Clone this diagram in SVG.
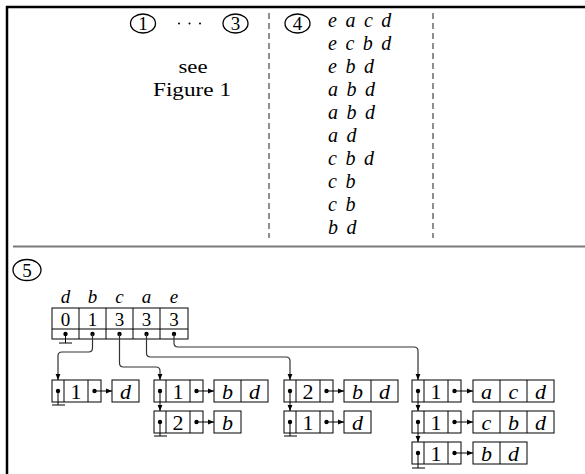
<svg xmlns="http://www.w3.org/2000/svg" width="585" height="474" viewBox="0 0 585 474">
<style>
  .t{font-family:"Liberation Serif","Times New Roman",serif;font-size:19px;fill:#000}
  .n{font-size:22px}
  .h{font-size:19px}
  .i{font-style:italic}
  .c{text-anchor:middle}
  .box{fill:none;stroke:#000;stroke-width:1}
  .con{fill:none;stroke:#333;stroke-width:1.2}
  .dash{stroke:#333;stroke-width:1.1;stroke-dasharray:6,4}
  .circ{fill:none;stroke:#000;stroke-width:1.3}
</style>
<defs>
  <marker id="ah" markerWidth="7" markerHeight="6" refX="6" refY="3" orient="auto" markerUnits="userSpaceOnUse">
    <path d="M0,0.6 L6,3 L0,5.4Z" fill="#000"/>
  </marker>
</defs>
<rect width="585" height="474" fill="#fff"/>
<g id="frame">
  <line x1="7" y1="6" x2="7" y2="474" stroke="#000" stroke-width="2.5"/>
  <line x1="6" y1="7" x2="585" y2="7" stroke="#000" stroke-width="2.5"/>
  <line x1="13" y1="246.5" x2="585" y2="246.5" stroke="#7a7a7a" stroke-width="1.8"/>
  <line class="dash" x1="269" y1="13" x2="269" y2="238"/>
  <line class="dash" x1="433" y1="13" x2="433" y2="238"/>
</g>
<g id="steps13">
  <ellipse class="circ" cx="143" cy="23.5" rx="12.5" ry="9.5"/>
  <text class="t c" x="143" y="30">1</text>
  <circle cx="179" cy="23.5" r="1"/><circle cx="189.5" cy="23.5" r="1"/><circle cx="200" cy="23.5" r="1"/>
  <ellipse class="circ" cx="235.5" cy="23.5" rx="12.5" ry="9.5"/>
  <text class="t c" x="235.5" y="30">3</text>
  <text class="t c" x="193" y="73" textLength="29" lengthAdjust="spacingAndGlyphs">see</text>
  <text class="t c" x="192" y="96" textLength="78" lengthAdjust="spacingAndGlyphs">Figure 1</text>
</g>
<g id="step4">
  <ellipse class="circ" cx="297.5" cy="23.5" rx="12.5" ry="9.5"/>
  <text class="t c" x="297.5" y="30">4</text>
  <g class="t i" style="font-size:20px;word-spacing:3.5px">
    <text x="328" y="27">e a c d</text>
    <text x="328" y="50">e c b d</text>
    <text x="328" y="73">e b d</text>
    <text x="328" y="96">a b d</text>
    <text x="328" y="119">a b d</text>
    <text x="328" y="142">a d</text>
    <text x="328" y="165">c b d</text>
    <text x="328" y="188">c b</text>
    <text x="328" y="211">c b</text>
    <text x="328" y="234">b d</text>
  </g>
</g>
<g id="step5label">
  <ellipse class="circ" cx="27" cy="270" rx="14" ry="10.5"/>
  <text class="t c" x="27" y="277">5</text>
</g>
<g id="header">
  <g class="t h i c">
    <text x="65.5" y="303">d</text>
    <text x="92.5" y="303">b</text>
    <text x="119.5" y="303">c</text>
    <text x="146.5" y="303">a</text>
    <text x="174" y="303">e</text>
  </g>
  <rect class="box" x="52" y="308" width="136" height="31"/>
  <line class="box" x1="52" y1="329" x2="188" y2="329"/>
  <line class="box" x1="79" y1="308" x2="79" y2="339"/>
  <line class="box" x1="106" y1="308" x2="106" y2="339"/>
  <line class="box" x1="133" y1="308" x2="133" y2="339"/>
  <line class="box" x1="160" y1="308" x2="160" y2="339"/>
  <g class="t h c">
    <text x="65.5" y="325.5">0</text>
    <text x="92.5" y="325.5">1</text>
    <text x="119.5" y="325.5">3</text>
    <text x="146.5" y="325.5">3</text>
    <text x="174" y="325.5">3</text>
  </g>
  <g fill="#000">
    <circle cx="65.5" cy="334" r="2.2"/><circle cx="92.5" cy="334" r="2.2"/><circle cx="119.5" cy="334" r="2.2"/><circle cx="146.5" cy="334" r="2.2"/><circle cx="174" cy="334" r="2.2"/>
  </g>
  <path class="box" d="M65.5,334 V343 M59,343 H72"/>
</g>
<g id="connectors">
  <path class="con" d="M92.5,334 V348 Q92.5,352 88.5,352 H62 Q58,352 58,356 V380" marker-end="url(#ah)"/>
  <path class="con" d="M119.5,334 V363 Q119.5,367 123.5,367 H156 Q160,367 160,371 V380" marker-end="url(#ah)"/>
  <path class="con" d="M146.5,334 V353 Q146.5,357 150.5,357 H286 Q290,357 290,361 V380" marker-end="url(#ah)"/>
  <path class="con" d="M174,334 V343 Q174,347 178,347 H414 Q418,347 418,351 V380" marker-end="url(#ah)"/>
</g>
<g id="nodeA">
  <rect class="box" x="52" y="380" width="49" height="22"/>
  <line class="box" x1="64" y1="380" x2="64" y2="402"/><line class="box" x1="88" y1="380" x2="88" y2="402"/>
  <text class="t n c" x="76" y="398.5">1</text>
  <circle cx="58" cy="391" r="2.2"/><circle cx="94.5" cy="391" r="2.2"/>
  <path class="box" d="M58,391 V405 M52,405 H65"/>
  <line class="box" x1="94.5" y1="391" x2="112" y2="391" marker-end="url(#ah)"/>
  <rect class="box" x="112" y="380" width="27" height="22"/>
  <text class="t n i c" x="125.5" y="398.5">d</text>
</g>
<g id="nodeB">
  <rect class="box" x="154" y="380" width="49" height="22"/>
  <line class="box" x1="166" y1="380" x2="166" y2="402"/><line class="box" x1="190" y1="380" x2="190" y2="402"/>
  <text class="t n c" x="178" y="398.5">1</text>
  <circle cx="160" cy="391" r="2.2"/><circle cx="196.5" cy="391" r="2.2"/>
  <line class="box" x1="196.5" y1="391" x2="214" y2="391" marker-end="url(#ah)"/>
  <rect class="box" x="214" y="380" width="54" height="22"/><line class="box" x1="241" y1="380" x2="241" y2="402"/>
  <text class="t n i c" x="227.5" y="398.5">b</text><text class="t n i c" x="254.5" y="398.5">d</text>
  <line class="box" x1="160" y1="391" x2="160" y2="411" marker-end="url(#ah)"/>
  <rect class="box" x="154" y="411" width="49" height="22"/>
  <line class="box" x1="166" y1="411" x2="166" y2="433"/><line class="box" x1="190" y1="411" x2="190" y2="433"/>
  <text class="t n c" x="178" y="429.5">2</text>
  <circle cx="160" cy="422" r="2.2"/><circle cx="196.5" cy="422" r="2.2"/>
  <path class="box" d="M160,422 V436 M154,436 H167"/>
  <line class="box" x1="196.5" y1="422" x2="214" y2="422" marker-end="url(#ah)"/>
  <rect class="box" x="214" y="411" width="27" height="22"/>
  <text class="t n i c" x="227.5" y="429.5">b</text>
</g>
<g id="nodeC">
  <rect class="box" x="284" y="380" width="49" height="22"/>
  <line class="box" x1="296" y1="380" x2="296" y2="402"/><line class="box" x1="320" y1="380" x2="320" y2="402"/>
  <text class="t n c" x="308" y="398.5">2</text>
  <circle cx="290" cy="391" r="2.2"/><circle cx="326.5" cy="391" r="2.2"/>
  <line class="box" x1="326.5" y1="391" x2="344" y2="391" marker-end="url(#ah)"/>
  <rect class="box" x="344" y="380" width="54" height="22"/><line class="box" x1="371" y1="380" x2="371" y2="402"/>
  <text class="t n i c" x="357.5" y="398.5">b</text><text class="t n i c" x="384.5" y="398.5">d</text>
  <line class="box" x1="290" y1="391" x2="290" y2="411" marker-end="url(#ah)"/>
  <rect class="box" x="284" y="411" width="49" height="22"/>
  <line class="box" x1="296" y1="411" x2="296" y2="433"/><line class="box" x1="320" y1="411" x2="320" y2="433"/>
  <text class="t n c" x="308" y="429.5">1</text>
  <circle cx="290" cy="422" r="2.2"/><circle cx="326.5" cy="422" r="2.2"/>
  <path class="box" d="M290,422 V436 M284,436 H297"/>
  <line class="box" x1="326.5" y1="422" x2="344" y2="422" marker-end="url(#ah)"/>
  <rect class="box" x="344" y="411" width="27" height="22"/>
  <text class="t n i c" x="357.5" y="429.5">d</text>
</g>
<g id="nodeD">
  <rect class="box" x="412" y="380" width="49" height="22"/>
  <line class="box" x1="424" y1="380" x2="424" y2="402"/><line class="box" x1="448" y1="380" x2="448" y2="402"/>
  <text class="t n c" x="436" y="398.5">1</text>
  <circle cx="418" cy="391" r="2.2"/><circle cx="454.5" cy="391" r="2.2"/>
  <line class="box" x1="454.5" y1="391" x2="473" y2="391" marker-end="url(#ah)"/>
  <rect class="box" x="473" y="380" width="81" height="22"/><line class="box" x1="500" y1="380" x2="500" y2="402"/><line class="box" x1="527" y1="380" x2="527" y2="402"/>
  <text class="t n i c" x="486.5" y="398.5">a</text><text class="t n i c" x="513.5" y="398.5">c</text><text class="t n i c" x="540.5" y="398.5">d</text>
  <line class="box" x1="418" y1="391" x2="418" y2="411" marker-end="url(#ah)"/>
  <rect class="box" x="412" y="411" width="49" height="22"/>
  <line class="box" x1="424" y1="411" x2="424" y2="433"/><line class="box" x1="448" y1="411" x2="448" y2="433"/>
  <text class="t n c" x="436" y="429.5">1</text>
  <circle cx="418" cy="422" r="2.2"/><circle cx="454.5" cy="422" r="2.2"/>
  <line class="box" x1="454.5" y1="422" x2="473" y2="422" marker-end="url(#ah)"/>
  <rect class="box" x="473" y="411" width="81" height="22"/><line class="box" x1="500" y1="411" x2="500" y2="433"/><line class="box" x1="527" y1="411" x2="527" y2="433"/>
  <text class="t n i c" x="486.5" y="429.5">c</text><text class="t n i c" x="513.5" y="429.5">b</text><text class="t n i c" x="540.5" y="429.5">d</text>
  <line class="box" x1="418" y1="422" x2="418" y2="442" marker-end="url(#ah)"/>
  <rect class="box" x="412" y="442" width="49" height="22"/>
  <line class="box" x1="424" y1="442" x2="424" y2="464"/><line class="box" x1="448" y1="442" x2="448" y2="464"/>
  <text class="t n c" x="436" y="460.5">1</text>
  <circle cx="418" cy="453" r="2.2"/><circle cx="454.5" cy="453" r="2.2"/>
  <path class="box" d="M418,453 V468 M412,468 H425"/>
  <line class="box" x1="454.5" y1="453" x2="473" y2="453" marker-end="url(#ah)"/>
  <rect class="box" x="473" y="442" width="54" height="22"/><line class="box" x1="500" y1="442" x2="500" y2="464"/>
  <text class="t n i c" x="486.5" y="460.5">b</text><text class="t n i c" x="513.5" y="460.5">d</text>
</g>
</svg>
